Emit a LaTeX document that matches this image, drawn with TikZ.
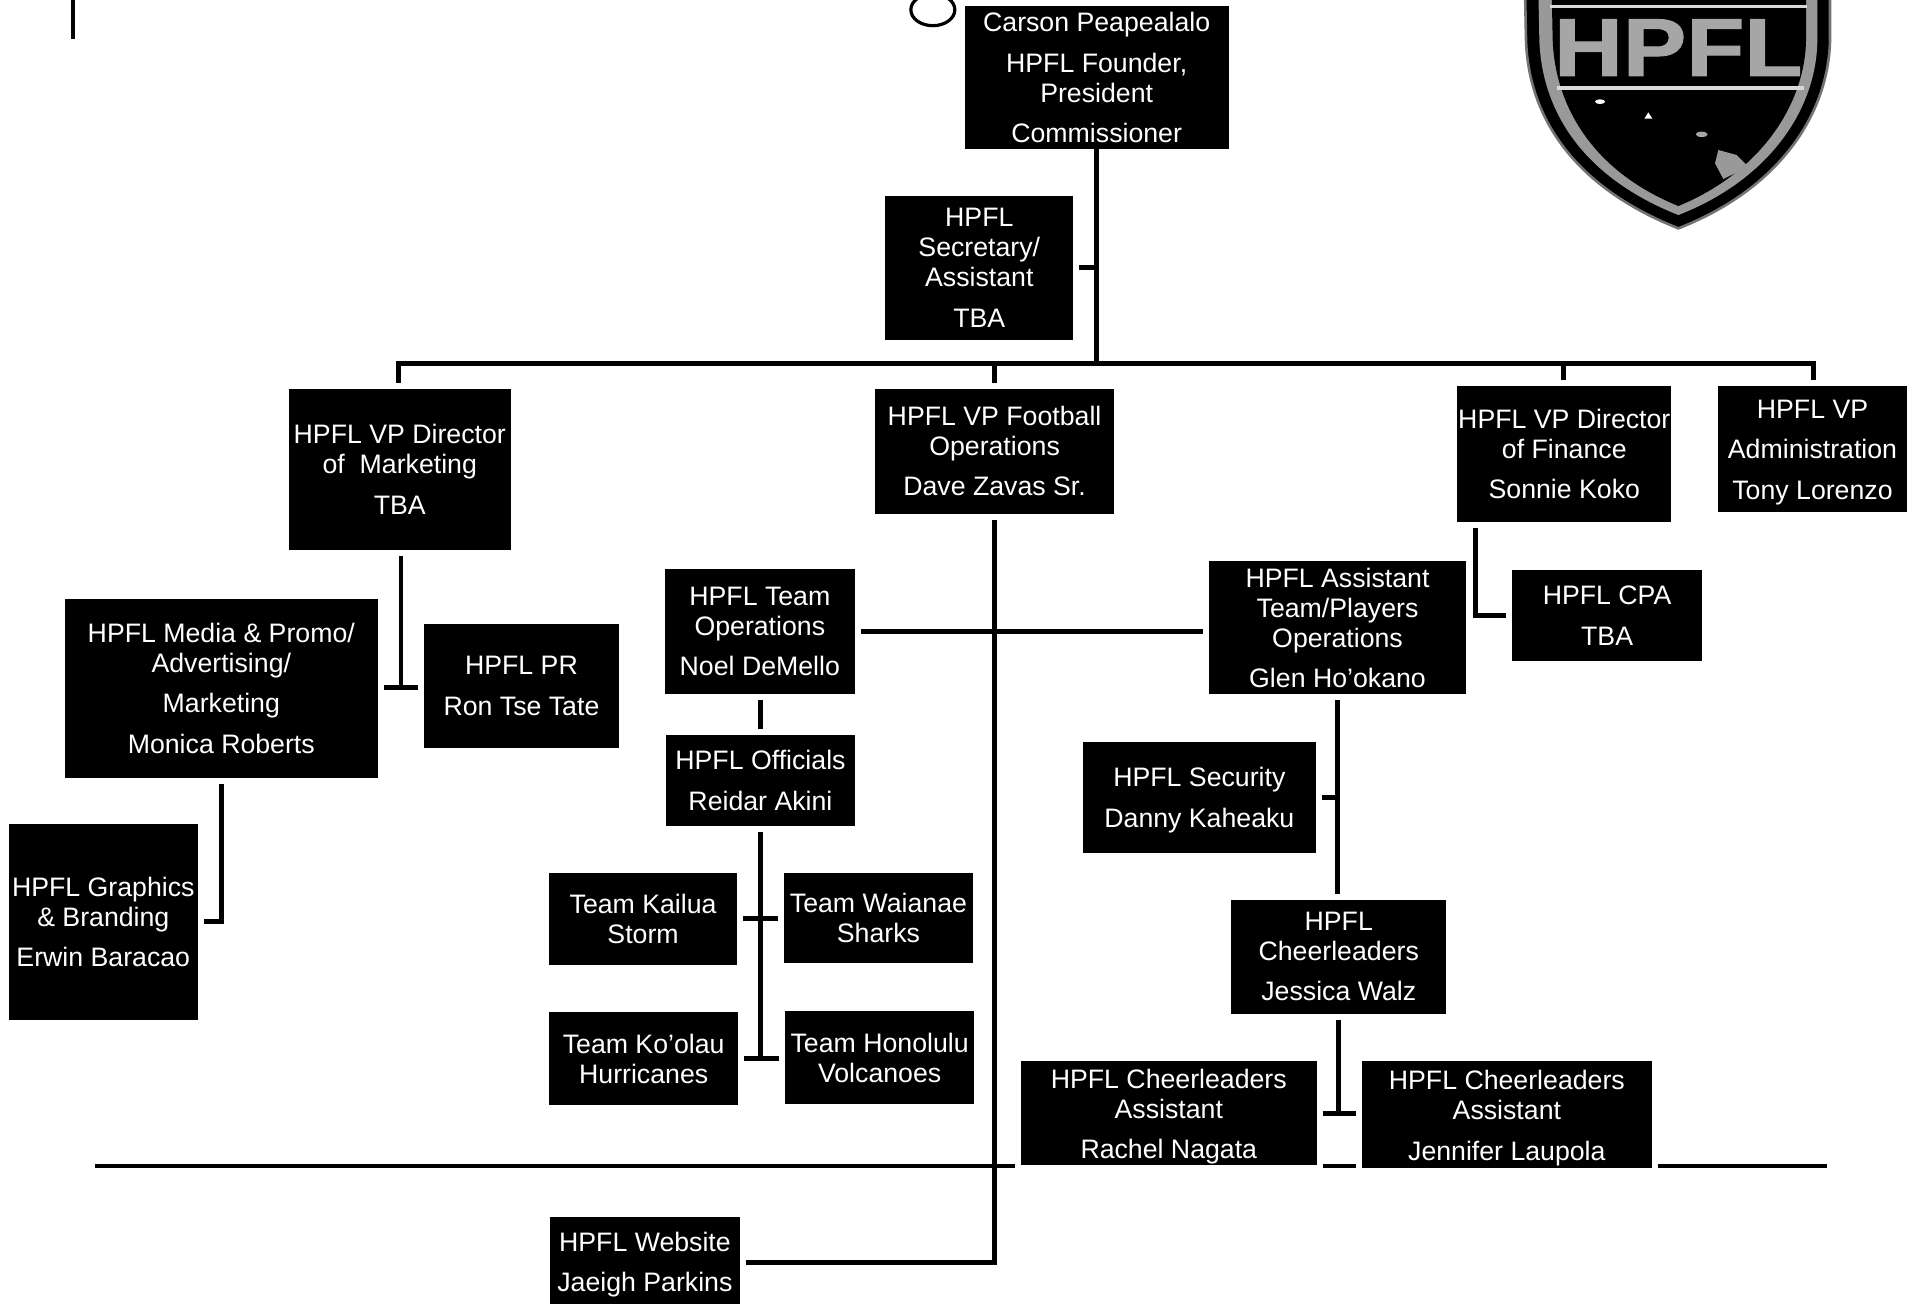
\documentclass[tikz,border=0pt]{standalone}
\usepackage{fontspec}
\setmainfont{Liberation Sans}
\def\lgap{5.2pt}
\newcommand{\dropa}{\rule{0pt}{12.1pt}}
\newcommand{\dropb}{\rule{0pt}{13.3pt}}
\tikzset{
  conn/.style={draw=black,line width=2.4pt,line join=miter},
  rulel/.style={draw=black,line width=2pt},
  sg/.style={shorten <=3pt},
  eg/.style={shorten >=3pt},
  orgbox/.style={fill=black,text=white,inner sep=0pt,outer sep=0pt,align=center,
    font=\fontsize{13.35}{15}\selectfont},
}
% name, x1, y1, x2, y2, text
\newcommand{\orgb}[6]{\node[orgbox,minimum width={(#4-#2)*0.6113pt},minimum height={(#5-#3)*0.6113pt}]
  (#1) at ({(#2+#4)/2},{(#3+#5)/2}) {#6};}
\begin{document}
\begin{tikzpicture}[x=0.6113pt,y=-0.6113pt]
\useasboundingbox[fill=white] (0pt,0pt) rectangle (958pt,-651.5pt);

% page fragments
\fill[black] (58.3,0) rectangle (61.7,32);
\draw[black,line width=1.6pt] (763,8) ellipse (18 and 13);

% boxes
\orgb{carson}{789}{5}{1005}{122}{Carson Peapealalo\\[\lgap]HPFL Founder,\\President\\[\lgap]Commissioner}
\orgb{sec}{724}{160}{878}{278}{HPFL\\Secretary/\\Assistant\\[\lgap]TBA}
\orgb{vpm}{236}{318}{418}{450}{HPFL VP Director\\of\ \ Marketing\\[\lgap]TBA}
\orgb{vpf}{716}{318}{911}{420}{HPFL VP Football\\Operations\\[\lgap]Dave Zavas Sr.}
\orgb{fin}{1192}{316}{1367}{427}{HPFL VP Director\\of Finance\\[\lgap]Sonnie Koko}
\orgb{vpa}{1405}{316}{1560}{419}{\dropa HPFL VP\\[\lgap]Administration\\[\lgap]Tony Lorenzo}
\orgb{media}{53}{490}{309}{636}{HPFL Media \& Promo/\\Advertising/\\[\lgap]Marketing\\[\lgap]Monica Roberts}
\orgb{pr}{347}{510}{506}{612}{HPFL PR\\[\lgap]Ron Tse Tate}
\orgb{gfx}{7}{674}{162}{834}{HPFL Graphics\\\& Branding\\[\lgap]Erwin Baracao}
\orgb{tops}{544}{465}{699}{568}{HPFL Team\\Operations\\[\lgap]Noel DeMello}
\orgb{off}{545}{601}{699}{676}{HPFL Officials\\[\lgap]Reidar Akini}
\orgb{kai}{449}{714}{603}{789}{Team Kailua\\Storm}
\orgb{wai}{641}{714}{796}{788}{Team Waianae\\Sharks}
\orgb{koo}{449}{828}{604}{904}{Team Ko’olau\\Hurricanes}
\orgb{hon}{642}{827}{797}{903}{Team Honolulu\\Volcanoes}
\orgb{web}{450}{995}{605}{1070}{\dropa HPFL Website\\[\lgap]Jaeigh Parkins}
\orgb{asst}{989}{459}{1199}{568}{HPFL Assistant\\Team/Players\\Operations\\[\lgap]Glen Ho’okano}
\orgb{cpa}{1237}{466}{1392}{541}{HPFL CPA\\[\lgap]TBA}
\orgb{secu}{886}{607}{1076}{698}{\dropa HPFL Security\\[\lgap]Danny Kaheaku}
\orgb{cheer}{1007}{736}{1183}{829}{HPFL\\Cheerleaders\\[\lgap]Jessica Walz}
\orgb{rach}{835}{868}{1077}{953}{\dropb HPFL Cheerleaders\\Assistant\\[\lgap]Rachel Nagata}
\orgb{jen}{1114}{868}{1351}{955}{\dropb HPFL Cheerleaders\\Assistant\\[\lgap]Jennifer Laupola}

% junctions
\coordinate (trunk) at (897,297);
\coordinate (barL) at (326,297);
\coordinate (barR) at (1483,297);
\coordinate (barF) at (1279,297);
\coordinate (mj) at (328,562);
\coordinate (fj) at (1207,504);
\coordinate (oj) at (622,865);
\coordinate (ruleL) at (78,953.5);
\coordinate (ruleR) at (1494,953.5);

% connectors
\draw[conn] (carson.south -| trunk) -- (trunk);
\draw[conn,sg,eg] (vpm.north -| barL) |- (barR) -- (vpa.north -| barR);
\draw[conn,eg] (vpf.north |- trunk) -- (vpf.north);
\draw[conn,eg] (barF) -- (fin.north -| barF);
\draw[conn,sg] (sec.east) -- (sec.east -| trunk);
\draw[conn,sg] (vpm.south -| mj) -- (mj);
\draw[conn,sg,eg] (media.east |- mj) -- (pr.west |- mj);
\draw[conn,sg,eg] (media.south) |- (gfx.east);
\draw[conn,sg,eg] (vpf.south) |- (web.east);
\draw[conn,sg,eg] (tops.east) -- (tops.east -| asst.west);
\draw[conn,sg,eg] (tops.south -| oj) -- (off.north -| oj);
\draw[conn,sg] (off.south -| oj) -- (oj);
\draw[conn,sg,eg] (kai.east) -- (wai.west |- kai.east);
\draw[conn,sg,eg] (koo.east) -- (hon.west |- koo.east);
\draw[conn,sg,eg] (fin.south -| fj) |- (cpa.west);
\draw[conn,sg,eg] (asst.south) -- (asst.south |- cheer.north);
\draw[conn,sg] (secu.east) -- (secu.east -| asst.south);
\draw[conn,sg] (cheer.south) -- (cheer.south |- rach.east);
\draw[conn,sg,eg] (rach.east) -- (jen.west |- rach.east);

% horizontal rule
\draw[rulel,eg] (ruleL) -- (rach.west |- ruleL);
\draw[rulel,sg,eg] (rach.east |- ruleL) -- (jen.west |- ruleL);
\draw[rulel,sg] (jen.east |- ruleL) -- (ruleR);

% logo shield
\begin{scope}[shift={(700pt,0pt)},x=0.16667pt,y=-0.16667pt]
  \filldraw[fill=black,draw=black!55,line width=1.3pt]
    (375,-30) -- (378,120) .. controls (385,350) and (520,560) .. (835,685)
    .. controls (1130,570) and (1285,350) .. (1290,120) -- (1290,-30) -- cycle;
  \fill[black!40]
    (415,-30) -- (418,120) .. controls (425,330) and (545,530) .. (835,645)
    .. controls (1105,540) and (1250,330) .. (1252,120) -- (1252,-30) -- cycle;
  \fill[black]
    (455,-30) -- (458,120) .. controls (465,310) and (570,510) .. (835,618)
    .. controls (1085,515) and (1215,310) .. (1218,120) -- (1218,-30) -- cycle;
  \fill[black!15] (450,16) rectangle (1222,25);
  \fill[black!15] (470,258) rectangle (1212,271);
  \node[inner sep=0pt,text=black!35,font=\fontsize{41}{41}\bfseries\selectfont] (logotext) at (835,143)
    {\addfontfeature{FakeBold=1.2}\scalebox{1.16}[1]{HPFL}};
  \fill[white] (600,305) ellipse (15 and 7);
  \fill[white] (745,337) -- (757,356) -- (733,356) -- cycle;
  \fill[black!35] (905,403) ellipse (18 and 8);
  \fill[black!40] (955,450) -- (1010,465) -- (1045,500) -- (970,537) -- (945,490) -- cycle;
\end{scope}
\end{tikzpicture}
\end{document}
